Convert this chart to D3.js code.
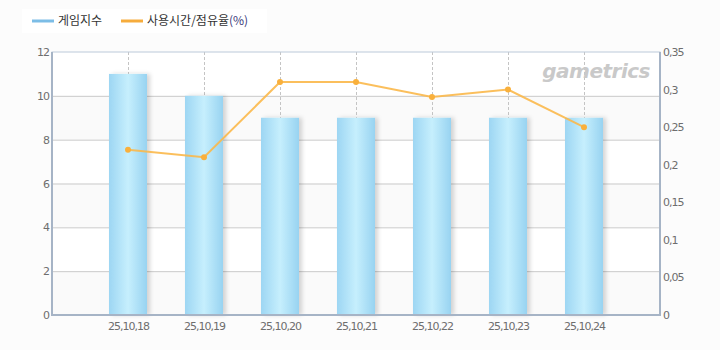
<!DOCTYPE html>
<html>
<head>
<meta charset="utf-8">
<script src="https://cdn.jsdelivr.net/npm/d3@7"></script>
<style>
  body { margin: 0; background: #fcfcfc; }
  svg { display: block; font-family: "DejaVu Sans", "Noto Sans CJK KR", sans-serif; }
</style>
</head>
<body>
<div id="chart"></div>
<script>
// chart data
const dates = ["25,10,18", "25,10,19", "25,10,20", "25,10,21", "25,10,22", "25,10,23", "25,10,24"];
const gameIndex = [11, 10, 9, 9, 9, 9, 9];
const usageShare = [0.22, 0.21, 0.31, 0.31, 0.29, 0.30, 0.25];
const leftTicks = [0, 2, 4, 6, 8, 10, 12];
const rightTicks = [0, 0.05, 0.1, 0.15, 0.2, 0.25, 0.3, 0.35];
const rightTickLabels = ["0", "0,05", "0,1", "0,15", "0,2", "0,25", "0,3", "0,35"];

const width = 720, height = 350;
const plot = {left: 52, right: 660, top: 52, bottom: 315};

const svg = d3.select("#chart").append("svg")
    .attr("width", width)
    .attr("height", height);

const defs = svg.append("defs");
const grad = defs.append("linearGradient").attr("id", "barGrad")
    .attr("x1", "0%").attr("x2", "100%").attr("y1", "0%").attr("y2", "0%");
grad.append("stop").attr("offset", "0%").attr("stop-color", "#9dd6f3");
grad.append("stop").attr("offset", "50%").attr("stop-color", "#c6effd");
grad.append("stop").attr("offset", "100%").attr("stop-color", "#98d3f1");

const shadow = defs.append("filter").attr("id", "shadow")
    .attr("x", "-20%").attr("y", "-10%").attr("width", "160%").attr("height", "120%");
shadow.append("feDropShadow")
    .attr("dx", 3).attr("dy", 0).attr("stdDeviation", 2)
    .attr("flood-color", "#000").attr("flood-opacity", 0.16);

// scales
const x = d3.scalePoint()
    .domain(dates)
    .range([plot.left, plot.right])
    .padding(1);

const yLeft = d3.scaleLinear().domain([0, 12]).range([plot.bottom, plot.top]);
const yRight = d3.scaleLinear().domain([0, 0.35]).range([plot.bottom, plot.top]);

// plot background with alternating bands
svg.append("rect")
    .attr("x", plot.left).attr("y", plot.top)
    .attr("width", plot.right - plot.left).attr("height", plot.bottom - plot.top)
    .attr("fill", "#fff");

svg.selectAll(".band")
    .data(d3.range(0, 12, 2).filter((d, i) => i % 2 === 0))
    .enter().append("rect")
    .attr("class", "band")
    .attr("x", plot.left)
    .attr("width", plot.right - plot.left)
    .attr("y", d => yLeft(d + 2))
    .attr("height", d => yLeft(d) - yLeft(d + 2))
    .attr("fill", "#fafafa");

// horizontal gridlines
svg.selectAll(".hgrid")
    .data(leftTicks.filter(d => d > 0 && d < 12))
    .enter().append("line")
    .attr("class", "hgrid")
    .attr("x1", plot.left).attr("x2", plot.right)
    .attr("y1", d => yLeft(d) + 0.5).attr("y2", d => yLeft(d) + 0.5)
    .attr("stroke", "#cacaca");

// vertical dashed gridlines
svg.selectAll(".vgrid")
    .data(dates)
    .enter().append("line")
    .attr("class", "vgrid")
    .attr("x1", d => Math.round(x(d)) + 0.5).attr("x2", d => Math.round(x(d)) + 0.5)
    .attr("y1", plot.top).attr("y2", plot.bottom)
    .attr("stroke", "#c4c4c4")
    .attr("stroke-dasharray", "3,2");

// watermark
svg.append("text")
    .attr("x", 650).attr("y", 78)
    .attr("text-anchor", "end")
    .attr("font-family", "'DejaVu Sans', sans-serif")
    .attr("font-size", 20)
    .attr("font-weight", "bold")
    .attr("font-style", "italic")
    .attr("letter-spacing", -0.5)
    .attr("fill", "#c9c9c9")
    .text("gametrics");

// bars
const barW = 38;
svg.selectAll(".bar")
    .data(gameIndex)
    .enter().append("rect")
    .attr("class", "bar")
    .attr("x", (d, i) => x(dates[i]) - barW / 2)
    .attr("y", d => yLeft(d))
    .attr("width", barW)
    .attr("height", d => plot.bottom - yLeft(d))
    .attr("fill", "url(#barGrad)")
    .attr("filter", "url(#shadow)");

// line series
const line = d3.line()
    .x((d, i) => x(dates[i]))
    .y(d => yRight(d));

svg.append("path")
    .datum(usageShare)
    .attr("d", line)
    .attr("fill", "none")
    .attr("stroke", "#fbb84a")
    .attr("stroke-width", 2)
    .attr("stroke-opacity", 0.9);

svg.selectAll(".dot")
    .data(usageShare)
    .enter().append("circle")
    .attr("class", "dot")
    .attr("cx", (d, i) => x(dates[i]))
    .attr("cy", d => yRight(d))
    .attr("r", 3)
    .attr("fill", "#f9b03c");

// plot frame
svg.append("rect")
    .attr("x", plot.left).attr("y", plot.top)
    .attr("width", plot.right - plot.left).attr("height", plot.bottom - plot.top)
    .attr("fill", "none")
    .attr("stroke", "#bccada")
    .attr("stroke-width", 1);

svg.append("line")
    .attr("x1", plot.left).attr("x2", plot.left)
    .attr("y1", plot.top).attr("y2", plot.bottom + 1)
    .attr("stroke", "#a6b4c6").attr("stroke-width", 2);
svg.append("line")
    .attr("x1", plot.right).attr("x2", plot.right)
    .attr("y1", plot.top).attr("y2", plot.bottom + 1)
    .attr("stroke", "#a6b4c6").attr("stroke-width", 2);
svg.append("line")
    .attr("x1", plot.left - 1).attr("x2", plot.right + 1)
    .attr("y1", plot.bottom).attr("y2", plot.bottom)
    .attr("stroke", "#a6b4c6").attr("stroke-width", 2);

// axes
const leftAxis = svg.append("g")
    .attr("transform", `translate(${plot.left - 2},0)`)
    .call(d3.axisLeft(yLeft).tickValues(leftTicks).tickSize(0).tickPadding(1));

const rightAxis = svg.append("g")
    .attr("transform", `translate(${plot.right + 2},0)`)
    .call(d3.axisRight(yRight).tickValues(rightTicks).tickSize(0).tickPadding(1)
        .tickFormat((d, i) => rightTickLabels[i]));

const bottomAxis = svg.append("g")
    .attr("transform", `translate(0,${plot.bottom + 2})`)
    .call(d3.axisBottom(x).tickSize(0).tickPadding(5));

[leftAxis, rightAxis, bottomAxis].forEach(g => {
    g.select(".domain").remove();
    g.selectAll("text")
        .attr("fill", "#6e6e6e")
        .attr("font-size", 11)
        .attr("font-family", "'DejaVu Sans', sans-serif")
        .attr("letter-spacing", -1);
});

// legend
const legend = svg.append("g");
legend.append("rect")
    .attr("x", 22).attr("y", 9)
    .attr("width", 245).attr("height", 24)
    .attr("fill", "#fff");

legend.append("line")
    .attr("x1", 32).attr("x2", 54).attr("y1", 21).attr("y2", 21)
    .attr("stroke", "#7cbde6").attr("stroke-width", 3);
legend.append("text")
    .attr("x", 58).attr("y", 25)
    .attr("font-family", "'Noto Sans CJK KR', sans-serif")
    .attr("font-size", 12)
    .attr("fill", "#333")
    .text("게임지수");

legend.append("line")
    .attr("x1", 121).attr("x2", 143).attr("y1", 21).attr("y2", 21)
    .attr("stroke", "#f6ac3c").attr("stroke-width", 3);
const lt = legend.append("text")
    .attr("x", 147).attr("y", 25)
    .attr("font-family", "'Noto Sans CJK KR', sans-serif")
    .attr("font-size", 12)
    .attr("fill", "#333");
lt.append("tspan").text("사용시간/점유율");
lt.append("tspan").attr("fill", "#3a3a7a").text("(%)");
</script>
</body>
</html>
